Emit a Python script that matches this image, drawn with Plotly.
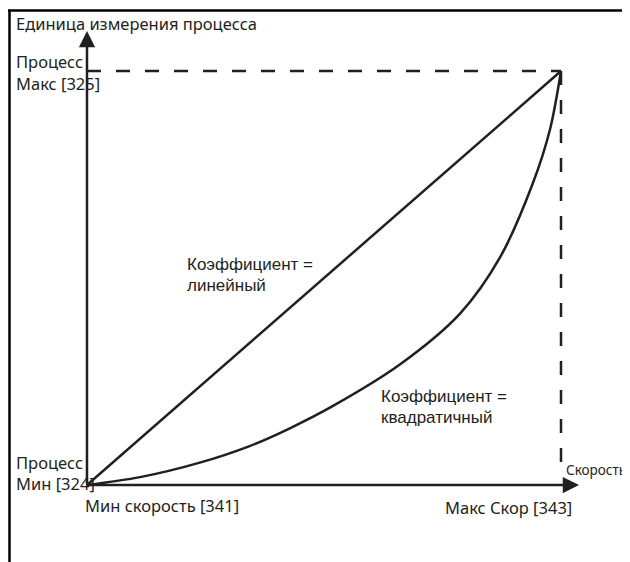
import plotly.graph_objects as go

# speed (% of range) and process value (% of range)
linear_speed = [0, 100]
linear_process = [0, 100]

quad_speed = [0, 11.2, 23.8, 34.3, 42.8, 51.9, 66.0, 78.7, 87.1, 94.1, 97.7, 100]
quad_process = [0, 1.9, 5.4, 9.4, 13.7, 19.1, 29.1, 41.4, 54.9, 73.0, 86.0, 100]

W, H = 630, 562
OFF = 8  # page body margin around the plot div
FW, FH = W - OFF, H - OFF
INK = "#231f20"
FONT = "Noto Sans"

# page-pixel frame of the drawing: origin at (87, 485), max corner at (561, 71)
X0, X1 = 87, 561
Y0, Y1 = 485, 71
sx = 100 / (X1 - X0)
sy = 100 / (Y0 - Y1)
x_range = [-(X0 - OFF) * sx, 100 + (W - X1) * sx]
y_range = [-(H - Y0) * sy, 100 + (Y1 - OFF) * sy]


def px(x):
    return (x - OFF) / FW


def py(y):
    return 1 - (y - OFF) / FH


fig = go.Figure()
fig.add_trace(go.Scatter(x=linear_speed, y=linear_process, mode="lines",
                         line=dict(color=INK, width=2.5), hoverinfo="skip"))
fig.add_trace(go.Scatter(x=quad_speed, y=quad_process, mode="lines",
                         line=dict(color=INK, width=2.5, shape="spline", smoothing=0.9),
                         hoverinfo="skip"))

# dashed guide lines to the max corner
fig.add_shape(type="line", x0=0, y0=100, x1=100, y1=100, xref="x", yref="y",
              line=dict(color=INK, width=2.5, dash="14px,15px"))
fig.add_shape(type="line", x0=100, y0=100, x1=100, y1=2, xref="x", yref="y",
              line=dict(color=INK, width=2.5, dash="14px,15px"))

# frame lines (top and left)
fig.add_shape(type="line", x0=0, y0=py(10.5), x1=1, y1=py(10.5), xref="paper", yref="paper",
              line=dict(color="black", width=2.5))
fig.add_shape(type="line", x0=px(9.5), y0=py(10), x1=px(9.5), y1=0, xref="paper", yref="paper",
              line=dict(color="black", width=2.5))

# axes with arrows
fig.add_annotation(x=0, y=(Y0 - 31) * sy, ax=0, ay=0, xref="x", yref="y", axref="x", ayref="y",
                   showarrow=True, arrowhead=2, arrowsize=1.3, arrowwidth=2.5, arrowcolor=INK, text="")
fig.add_annotation(x=(579 - X0) * sx, y=0, ax=0, ay=0, xref="x", yref="y", axref="x", ayref="y",
                   showarrow=True, arrowhead=2, arrowsize=1.3, arrowwidth=2.5, arrowcolor=INK, text="")

labels = [
    ("Единица измерения процесса", 14, 23, "left", FONT, 16.5),
    ("Процесс", 14, 61, "left", FONT, 16.5),
    ("Макс [325]", 14, 83, "left", FONT, 16.5),
    ("Процесс", 14, 462, "left", FONT, 16.5),
    ("Мин [324]", 14, 483, "left", FONT, 16.5),
    ("Мин скорость [341]", 83, 505, "left", FONT, 16.5),
    ("Макс Скор [343]", 574, 507, "right", FONT, 16.5),
    ("Скорость", 564, 470, "left", FONT, 13.5),
    ("Коэффициент =", 185, 264, "left", "Liberation Sans", 17),
    ("линейный", 185, 285, "left", "Liberation Sans", 17),
    ("Коэффициент =", 379, 396, "left", "Liberation Sans", 17),
    ("квадратичный", 379, 417, "left", "Liberation Sans", 17),
]
for text, x, y, anchor, fam, size in labels:
    fig.add_annotation(x=px(x), y=py(y), xref="paper", yref="paper", text=text,
                       showarrow=False, xanchor=anchor, yanchor="middle",
                       font=dict(family=fam, size=size, color=INK))

fig.update_xaxes(range=x_range, visible=False, fixedrange=True)
fig.update_yaxes(range=y_range, visible=False, fixedrange=True)
fig.update_layout(
    width=FW, height=FH,
    margin=dict(l=0, r=0, t=0, b=0),
    paper_bgcolor="white",
    plot_bgcolor="white",
    showlegend=False,
)

fig.write_html("out.html")
